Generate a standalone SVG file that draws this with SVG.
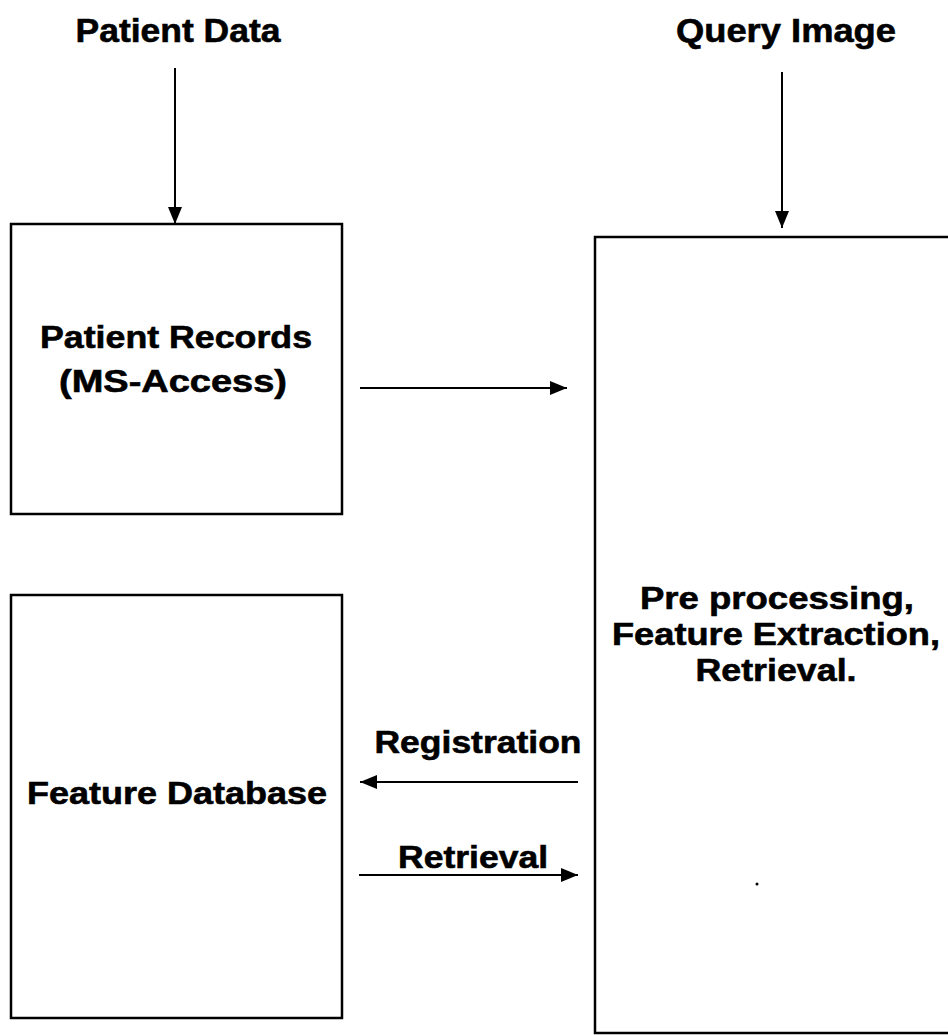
<svg xmlns="http://www.w3.org/2000/svg" width="948" height="1035" viewBox="0 0 948 1035">
  <defs>
    <style>
      .box { fill: #ffffff; stroke: #000000; stroke-width: 2.5; }
      .conn { stroke: #000000; stroke-width: 2; fill: none; }
      .lbl { font-family: "Liberation Sans", Arial, Helvetica, sans-serif; font-weight: bold; font-size: 32px; fill: #000000; stroke: #000000; stroke-width: 0.6; text-anchor: middle; }
      .top { font-size: 34px; }
    </style>
    <marker id="arrow" viewBox="0 0 17 14" refX="17" refY="7" markerWidth="17" markerHeight="14" markerUnits="userSpaceOnUse" orient="auto">
      <path d="M0,0 L17,7 L0,14 Z" fill="#000000"/>
    </marker>
  </defs>
  <rect width="948" height="1035" fill="#ffffff"/>

  <g id="label-patient-data">
    <text class="lbl top" x="178" y="42" textLength="205" lengthAdjust="spacingAndGlyphs">Patient Data</text>
  </g>
  <g id="label-query-image">
    <text class="lbl top" x="786" y="42" textLength="220" lengthAdjust="spacingAndGlyphs">Query Image</text>
  </g>

  <g id="node-patient-records">
    <rect class="box" x="11" y="224" width="331" height="290"/>
    <text class="lbl" x="176" y="348" textLength="272" lengthAdjust="spacingAndGlyphs">Patient Records</text>
    <text class="lbl" x="173" y="392" textLength="228" lengthAdjust="spacingAndGlyphs">(MS-Access)</text>
  </g>

  <g id="node-feature-database">
    <rect class="box" x="11" y="595" width="331" height="423"/>
    <text class="lbl" x="177" y="804" textLength="300" lengthAdjust="spacingAndGlyphs">Feature Database</text>
  </g>

  <g id="node-processing">
    <rect class="box" x="595" y="237" width="400" height="796"/>
    <text class="lbl" x="777" y="609" textLength="274" lengthAdjust="spacingAndGlyphs">Pre processing,</text>
    <text class="lbl" x="776" y="645" textLength="328" lengthAdjust="spacingAndGlyphs">Feature Extraction,</text>
    <text class="lbl" x="776" y="681" textLength="161" lengthAdjust="spacingAndGlyphs">Retrieval.</text>
    <circle cx="757" cy="884" r="1.5" fill="#000000"/>
  </g>

  <g id="connectors">
    <line class="conn" x1="175" y1="68" x2="175" y2="224" marker-end="url(#arrow)"/>
    <line class="conn" x1="782" y1="72" x2="782" y2="228" marker-end="url(#arrow)"/>
    <line class="conn" x1="360" y1="388" x2="567" y2="388" marker-end="url(#arrow)"/>
    <line class="conn" x1="578" y1="782" x2="360" y2="782" marker-end="url(#arrow)"/>
    <line class="conn" x1="359" y1="875" x2="578" y2="875" marker-end="url(#arrow)"/>
    <text class="lbl" x="478" y="753" textLength="207" lengthAdjust="spacingAndGlyphs">Registration</text>
    <text class="lbl" x="473" y="868" textLength="150" lengthAdjust="spacingAndGlyphs">Retrieval</text>
  </g>
</svg>
